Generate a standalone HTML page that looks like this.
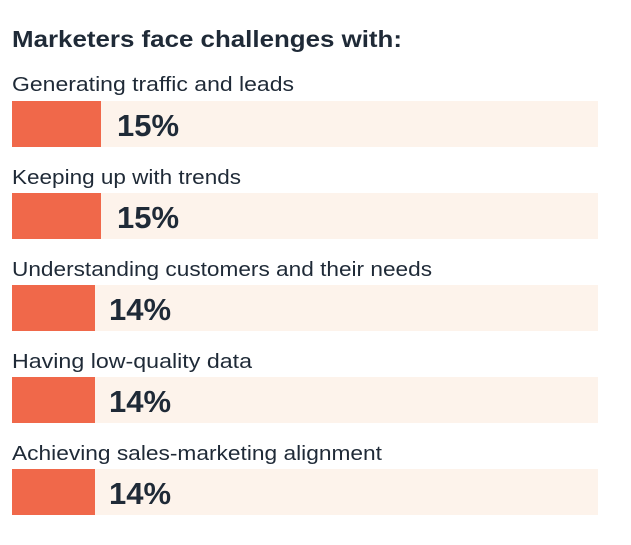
<!DOCTYPE html>
<html><head><meta charset="utf-8"><style>
html,body{margin:0;padding:0;background:#fff;}
svg{display:block}
text{font-family:"Liberation Sans",sans-serif;fill:#1f2a37}
.l{font-size:20px}
.p{font-size:31px;font-weight:bold}
</style></head><body>
<svg width="631" height="545" xmlns="http://www.w3.org/2000/svg">
<text x="12" y="47" font-size="23" font-weight="bold" textLength="390" lengthAdjust="spacingAndGlyphs">Marketers face challenges with:</text>

<text class="l" x="12" y="91" textLength="282" lengthAdjust="spacingAndGlyphs">Generating traffic and leads</text>
<rect x="12" y="101" width="586" height="46" fill="#fdf3eb"/>
<rect x="12" y="101" width="89" height="46" fill="#f0684a"/>
<text class="p" x="117" y="136">15%</text>

<text class="l" x="12" y="184" textLength="229" lengthAdjust="spacingAndGlyphs">Keeping up with trends</text>
<rect x="12" y="193" width="586" height="46" fill="#fdf3eb"/>
<rect x="12" y="193" width="89" height="46" fill="#f0684a"/>
<text class="p" x="117" y="228">15%</text>

<text class="l" x="12" y="276" textLength="420" lengthAdjust="spacingAndGlyphs">Understanding customers and their needs</text>
<rect x="12" y="285" width="586" height="46" fill="#fdf3eb"/>
<rect x="12" y="285" width="83" height="46" fill="#f0684a"/>
<text class="p" x="109" y="320">14%</text>

<text class="l" x="12" y="368" textLength="240" lengthAdjust="spacingAndGlyphs">Having low-quality data</text>
<rect x="12" y="377" width="586" height="46" fill="#fdf3eb"/>
<rect x="12" y="377" width="83" height="46" fill="#f0684a"/>
<text class="p" x="109" y="412">14%</text>

<text class="l" x="12" y="460" textLength="370" lengthAdjust="spacingAndGlyphs">Achieving sales-marketing alignment</text>
<rect x="12" y="469" width="586" height="46" fill="#fdf3eb"/>
<rect x="12" y="469" width="83" height="46" fill="#f0684a"/>
<text class="p" x="109" y="504">14%</text>
</svg>
</body></html>
